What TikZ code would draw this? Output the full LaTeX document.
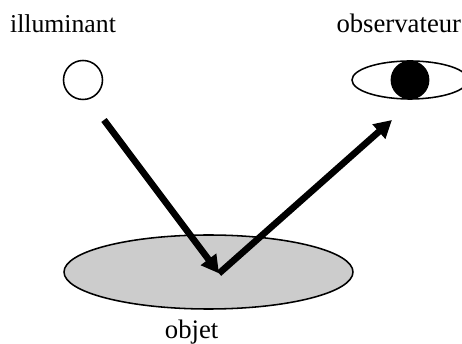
\documentclass[tikz,border=0pt]{standalone}
\usepackage{fontspec}
\setmainfont{Liberation Serif}
\usetikzlibrary{arrows.meta,shapes.geometric}
\begin{document}
\begin{tikzpicture}[label/.style={anchor=base, inner sep=0pt, font=\fontsize{18.3}{22}\selectfont}, outline/.style={draw=black, line width=1.1pt, inner sep=0pt}, ray/.style={-{Triangle[length=0.44cm,width=0.46cm]}, draw=black, line width=4.7pt}]
\useasboundingbox (0,0) rectangle (11.55,8.575);
\clip (0,0) rectangle (11.55,8.575);
\node[label] (illuminant) at (1.575,7.75) {illuminant};
\node[label, font=\fontsize{19}{22}\selectfont] (observateur) at (9.97,7.75) {observateur};
\node[label, font=\fontsize{19}{22}\selectfont] (objet) at (4.79,0.1) {objet};
\node[outline, circle, minimum size=0.975cm] (source) at (2.075,6.575) {};
\node[outline, ellipse, minimum width=2.9cm, minimum height=0.95cm] (eye) at (10.25,6.575) {};
\node[circle, fill=black, minimum size=0.97cm, inner sep=0pt] (pupil) at (eye.center) {};
\node[outline, ellipse, fill=black!20, minimum width=7.225cm, minimum height=1.85cm] (surface) at (5.2125,1.775) {};
\coordinate (start) at (2.6,5.575);
\coordinate (impact) at (5.475,1.74);
\coordinate (end) at (9.8,5.575);
\draw[ray] (start) -- (impact);
\draw[ray] (impact) -- (end);
\end{tikzpicture}
\end{document}
